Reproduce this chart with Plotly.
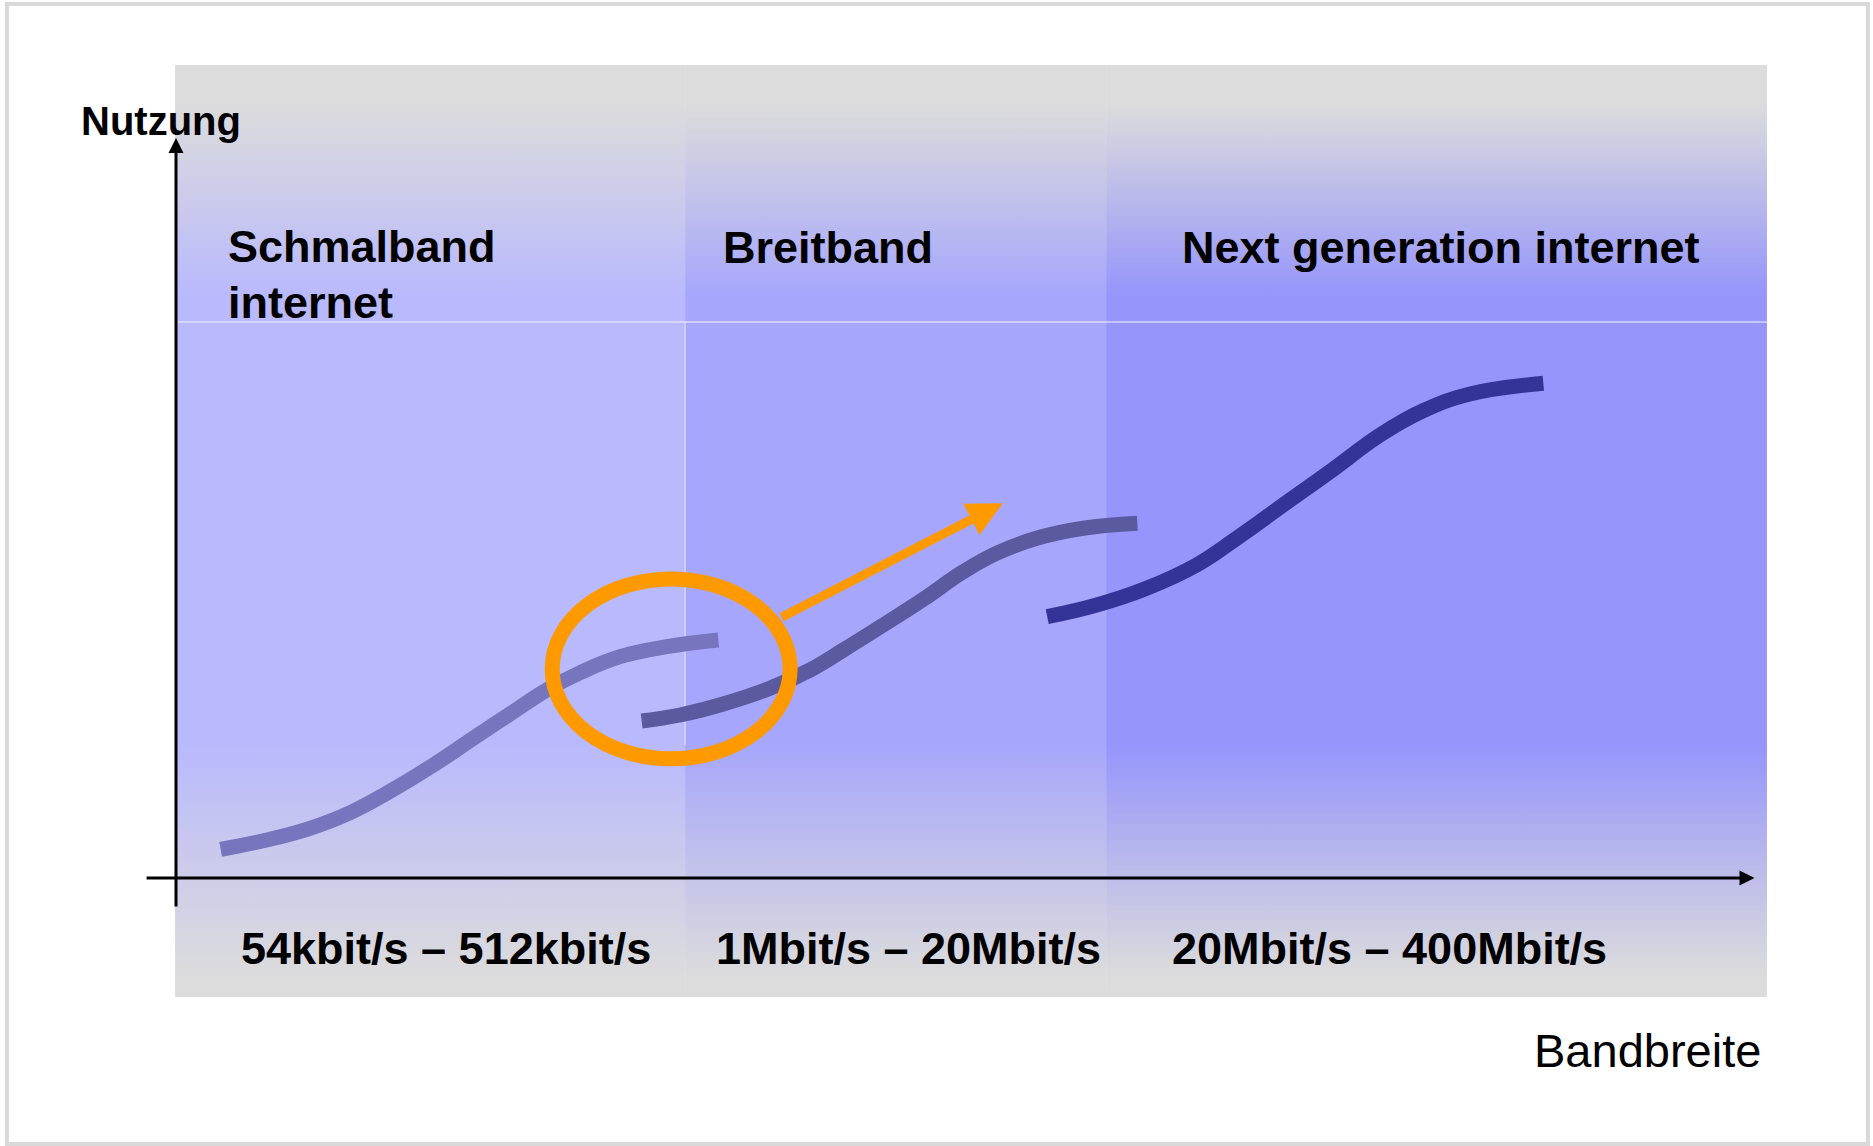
import plotly.graph_objects as go

# ---------------- data (diagram units: x = Bandbreite axis 0..100, y = Nutzung axis 0..100)
schmal_x = [2.83, 5.75, 8.49, 11.03, 13.35, 16.31, 18.84, 21.38, 23.49, 25.60, 28.14, 31.10, 34.37]
schmal_y = [3.88, 5.14, 6.72, 8.82, 11.45, 15.27, 18.88, 22.47, 25.41, 27.74, 29.91, 31.26, 32.16]

breit_x = [29.51, 31.94, 34.68, 37.64, 40.18, 42.29, 44.82, 47.36, 49.89, 52.00, 54.54, 57.49, 60.92]
breit_y = [21.22, 22.03, 23.51, 25.64, 28.11, 30.81, 34.19, 37.66, 41.39, 43.88, 45.91, 47.26, 47.93]

ngi_x = [55.21, 58.35, 61.51, 64.68, 67.22, 70.17, 73.13, 76.30, 79.04, 82.00, 86.65]
ngi_y = [35.31, 36.89, 39.15, 42.30, 45.91, 50.41, 54.91, 59.86, 63.15, 65.41, 66.85]

band_names = [["Schmalband", "internet"], ["Breitband"], ["Next generation internet"]]
band_rates = ["54kbit/s – 512kbit/s", "1Mbit/s – 20Mbit/s", "20Mbit/s – 400Mbit/s"]
band_edges = [-0.06, 32.26, 58.94, 100.82]
row_edges = [-16.08, 17.97, 75.14, 109.87]  # bottom fade / body / header

# highlight (ellipse) and transition arrow, diagram units
highlight = dict(cx=31.38, cy=28.26, rx=7.54, ry=12.16)
transition_from = (38.28, 35.14)
transition_to = (52.39, 50.64)

axis_x_label = "Bandbreite"
axis_y_label = "Nutzung"

# ---------------- styles
GRAY = "#DCDCDC"
band_colors = ["#B9B9FD", "#A6A6FC", "#9595FC"]
curve_colors = ["#7775BD", "#5A5AA0", "#343498"]
ORANGE = "#FF9900"
FONT = "Liberation Sans, Arial, sans-serif"

X_RANGE = [-11.153, 107.54]
Y_RANGE = [-36.216, 118.649]

fig = go.Figure()


def cell(x0, x1, y0, y1, **kw):
    fig.add_trace(go.Scatter(
        x=[x0, x1, x1, x0, x0], y=[y0, y0, y1, y1, y0],
        mode="none", fill="toself", hoverinfo="skip", showlegend=False, **kw))


for i, c in enumerate(band_colors):
    x0, x1 = band_edges[i], band_edges[i + 1]
    # bottom fade (gray at bottom -> colour at top)
    cell(x0, x1, row_edges[0], row_edges[1],
         fillgradient=dict(type="vertical", start=row_edges[0], stop=row_edges[1],
                           colorscale=[[0, GRAY], [0.08, GRAY], [1, c]]))
    # body
    cell(x0, x1, row_edges[1], row_edges[2], fillcolor=c)
    # header (colour at bottom -> gray at top)
    cell(x0, x1, row_edges[2], row_edges[3],
         fillgradient=dict(type="vertical", start=row_edges[2], stop=row_edges[3],
                           colorscale=[[0, c], [0.1, c], [0.85, GRAY], [1, GRAY]]))

# light separator lines
fig.add_trace(go.Scatter(x=[band_edges[0], band_edges[-1]], y=[row_edges[2], row_edges[2]],
                         mode="lines", line=dict(color="rgba(235,235,255,0.75)", width=1.5),
                         hoverinfo="skip", showlegend=False))
fig.add_trace(go.Scatter(x=[band_edges[1], band_edges[1]], y=[row_edges[1], row_edges[2]],
                         mode="lines", line=dict(color="rgba(235,235,255,0.6)", width=1.5),
                         hoverinfo="skip", showlegend=False))

# S-curves
for xs, ys, col in [(schmal_x, schmal_y, curve_colors[0]),
                    (breit_x, breit_y, curve_colors[1]),
                    (ngi_x, ngi_y, curve_colors[2])]:
    fig.add_trace(go.Scatter(x=xs, y=ys, mode="lines",
                             line=dict(color=col, width=15, shape="spline", smoothing=1.2),
                             hoverinfo="skip", showlegend=False))

# highlight ellipse
fig.add_shape(type="circle", xref="x", yref="y",
              x0=highlight["cx"] - highlight["rx"], x1=highlight["cx"] + highlight["rx"],
              y0=highlight["cy"] - highlight["ry"], y1=highlight["cy"] + highlight["ry"],
              line=dict(color=ORANGE, width=15), layer="above")

# outer frame
fig.add_shape(type="rect", xref="paper", yref="paper",
              x0=0.0037, x1=0.9973, y0=0.0018, y1=0.9965,
              line=dict(color="#D9D9D9", width=4), layer="above")

ann = []
# axes with arrows
ann.append(dict(x=100.03, y=0, ax=-1.96, ay=0, xref="x", yref="y", axref="x", ayref="y",
                text="", showarrow=True, arrowhead=2, arrowsize=1, arrowwidth=3,
                arrowcolor="black", standoff=0))
ann.append(dict(x=0, y=100, ax=0, ay=-4.05, xref="x", yref="y", axref="x", ayref="y",
                text="", showarrow=True, arrowhead=2, arrowsize=1, arrowwidth=3,
                arrowcolor="black", standoff=0))
# transition arrow
ann.append(dict(x=transition_to[0], y=transition_to[1], ax=transition_from[0], ay=transition_from[1],
                xref="x", yref="y", axref="x", ayref="y",
                text="", showarrow=True, arrowhead=2, arrowsize=0.78, arrowwidth=9,
                arrowcolor=ORANGE, standoff=0))

# axis labels
ann.append(dict(x=-0.98, y=102.36, xref="x", yref="y", text="<b>" + axis_y_label + "</b>",
                showarrow=False, xanchor="center", yanchor="middle",
                font=dict(family=FONT, size=40, color="black")))
ann.append(dict(x=100.57, y=-23.31, xref="x", yref="y", text=axis_x_label,
                showarrow=False, xanchor="right", yanchor="middle",
                font=dict(family=FONT, size=47, color="black")))

# band titles
title_font = dict(family=FONT, size=45, color="black")
ann.append(dict(x=3.17, y=85.28, xref="x", yref="y", text="<b>" + band_names[0][0] + "</b>",
                showarrow=False, xanchor="left", yanchor="middle", font=title_font))
ann.append(dict(x=3.17, y=77.82, xref="x", yref="y", text="<b>" + band_names[0][1] + "</b>",
                showarrow=False, xanchor="left", yanchor="middle", font=title_font))
ann.append(dict(x=41.29, y=85.16, xref="x", yref="y", text="<b>" + band_names[1][0] + "</b>",
                showarrow=False, xanchor="center", yanchor="middle", font=title_font))
ann.append(dict(x=80.16, y=85.16, xref="x", yref="y", text="<b>" + band_names[2][0] + "</b>",
                showarrow=False, xanchor="center", yanchor="middle", font=title_font))

# bandwidth ranges
for xc, label in zip([17.08, 46.45, 76.93], band_rates):
    ann.append(dict(x=xc, y=-9.59, xref="x", yref="y", text="<b>" + label + "</b>",
                    showarrow=False, xanchor="center", yanchor="middle", font=title_font))

fig.update_layout(
    width=1873, height=1146,
    margin=dict(l=0, r=0, t=0, b=0),
    paper_bgcolor="white", plot_bgcolor="white",
    xaxis=dict(range=X_RANGE, visible=False, fixedrange=True),
    yaxis=dict(range=Y_RANGE, visible=False, fixedrange=True),
    annotations=ann,
    showlegend=False,
)

fig.write_html("out.html",
               config={"displayModeBar": False, "staticPlot": True},
               post_script="document.body.style.margin='0';document.body.style.overflow='hidden';")
